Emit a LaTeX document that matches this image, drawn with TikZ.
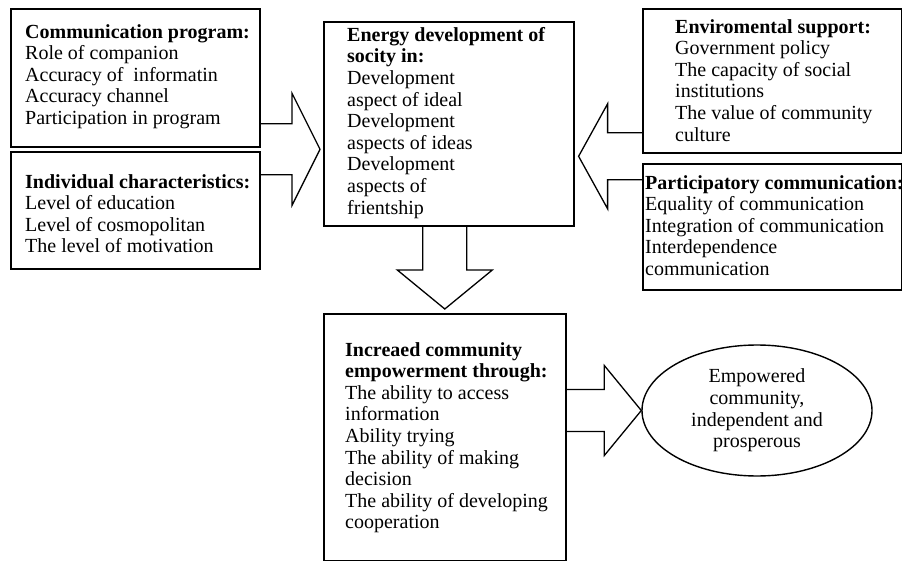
\documentclass[tikz,border=0pt]{standalone}
\usepackage{fontspec}
\setmainfont{Liberation Serif}
\usetikzlibrary{shapes.geometric,calc}

% block arrow: #1 tail, #2 tip, #3 shaft half-width, #4 head half-width, #5 head length
\newcommand\blockarr[5]{%
  \coordinate (ahbase) at ($(#2)!#5!(#1)$);
  \draw[blockarrow] ($(#1)!#3!90:(#2)$) -- ($(ahbase)!#3!90:(#2)$)
    -- ($(ahbase)!#4!90:(#2)$) -- (#2) -- ($(ahbase)!#4!-90:(#2)$)
    -- ($(ahbase)!#3!-90:(#2)$) -- ($(#1)!#3!-90:(#2)$);}

\begin{document}
\begin{tikzpicture}[x=1pt,y=-1pt,
  box/.style={draw, line width=1.6pt, inner sep=0pt, anchor=north west},
  txt/.style={anchor=north west, inner sep=0pt, align=left,
    font=\fontsize{20}{21.6}\selectfont},
  blockarrow/.style={draw, line width=1.3pt, line join=miter}]
\useasboundingbox (0,0) rectangle (902,561);

% frames
\node[box, minimum width=249pt, minimum height=138pt] (A) at (10,8) {};
\node[box, minimum width=249pt, minimum height=117pt] (B) at (10,151) {};
\node[box, minimum width=250pt, minimum height=204pt] (C) at (323,21) {};
\node[box, minimum width=259pt, minimum height=144pt] (D) at (642,8) {};
\node[box, minimum width=259pt, minimum height=126pt] (E) at (642,163) {};
\node[box, minimum width=242pt, minimum height=246.5pt] (F) at (323,313) {};
\node[draw, line width=1.4pt, ellipse, minimum width=230pt, minimum height=131pt,
  inner sep=0pt, align=center, font=\fontsize{20}{21.6}\selectfont] (G) at (757,410.5)
  {Empowered\\community,\\independent and\\prosperous};

% texts
\node[txt] (At) at (25,24) {\textbf{Communication program:}\\Role of companion\\
  Accuracy of~ informatin\\Accuracy channel\\Participation in program};
\node[txt] (Bt) at (25,174) {\textbf{Individual characteristics:}\\Level of education\\
  Level of cosmopolitan\\The level of motivation};
\node[txt] (Ct) at (347,27) {\textbf{Energy development of}\\\textbf{socity in:}\\
  Development\\aspect of ideal\\Development\\aspects of ideas\\Development\\
  aspects of\\frientship};
\node[txt] (Dt) at (675,19) {\textbf{Enviromental support:}\\Government policy\\
  The capacity of social\\institutions\\The value of community\\culture};
\node[txt] (Et) at (645,175) {\textbf{Participatory communication:}\\
  Equality of communication\\Integration of communication\\Interdependence\\
  communication};
\node[txt] (Ft) at (345,342) {\textbf{Increaed community}\\\textbf{empowerment through:}\\
  The ability to access\\information\\Ability trying\\The ability of making\\
  decision\\The ability of developing\\cooperation};

% block arrows
\coordinate (lt) at ($(A.south east)!0.5!(B.north east)$);
\coordinate (lp) at ($(C.west |- lt)+(-3,0)$);
\blockarr{lt}{lp}{25.5pt}{56pt}{28pt}

\coordinate (rt) at ($(D.south west)!0.5!(E.north west)+(0,-2)$);
\coordinate (rp) at ($(C.east |- rt)+(4,0)$);
\blockarr{rt}{rp}{23.5pt}{52.5pt}{29pt}

\coordinate (dt) at (F.north |- C.south);
\coordinate (dp) at ($(F.north)+(0,-4)$);
\blockarr{dt}{dp}{22pt}{47.5pt}{39pt}

\coordinate (et) at (F.east |- G.west);
\coordinate (ep) at (G.west);
\blockarr{et}{ep}{21pt}{45pt}{37pt}
\end{tikzpicture}
\end{document}
